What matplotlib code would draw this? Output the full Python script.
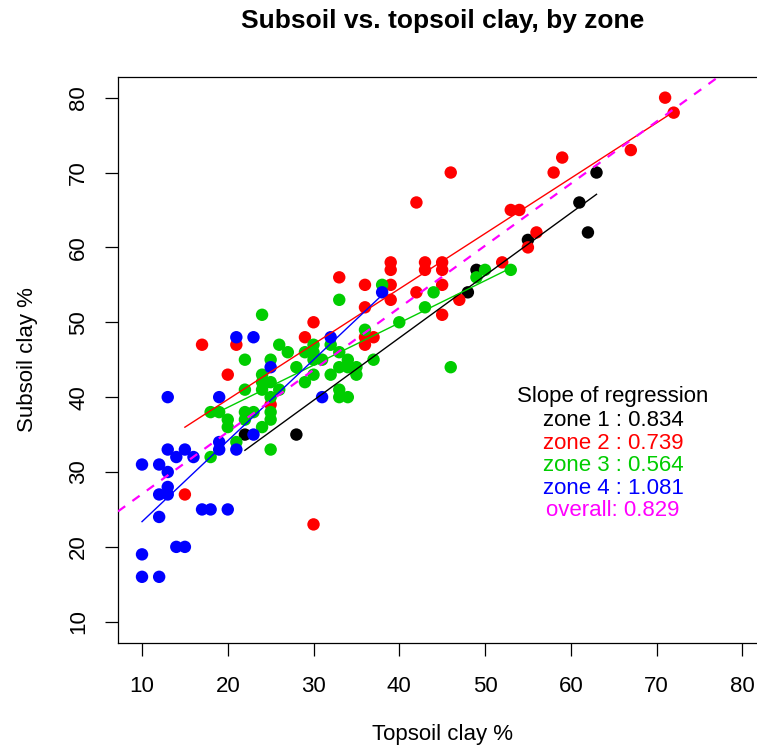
import numpy as np
import matplotlib
matplotlib.use("Agg")
import matplotlib.pyplot as plt

plt.rcParams['font.family'] = ['Liberation Sans', 'DejaVu Sans']

# ---------------- data (topsoil, subsoil clay %) por zona ----------------
z1_top = [22, 28, 48, 49, 55, 61, 62, 63]
z1_sub = [35, 35, 54, 57, 61, 66, 62, 70]

z2_top = [15, 17, 20, 21, 25, 29, 30, 30, 33, 36, 36, 36, 37, 36, 39, 39, 39, 39,
          42, 42, 43, 43, 45, 45, 45, 45, 46, 47, 52, 53, 54, 55, 56, 58, 59, 67, 71, 72]
z2_sub = [27, 47, 43, 47, 39, 48, 50, 23, 56, 55, 52, 48, 48, 47, 58, 57, 55, 53,
          66, 54, 58, 57, 58, 57, 55, 51, 70, 53, 58, 65, 65, 60, 62, 70, 72, 73, 80, 78]

z3_top = [18, 18, 19, 20, 20, 21, 22, 22, 22, 22, 23, 24, 24, 24, 24, 24, 25, 25, 25,
          25, 25, 25, 26, 26, 27, 28, 29, 29, 30, 30, 30, 30, 31, 32, 32, 33, 33, 33,
          33, 33, 34, 34, 34, 35, 35, 36, 37, 38, 40, 43, 44, 46, 49, 50, 53]
z3_sub = [32, 38, 38, 37, 36, 34, 45, 41, 38, 37, 38, 51, 43, 42, 41, 36, 45, 42, 40,
          38, 37, 33, 47, 41, 46, 44, 46, 42, 47, 46, 45, 43, 45, 47, 43, 53, 46, 44,
          41, 40, 45, 44, 40, 44, 43, 49, 45, 55, 50, 52, 54, 44, 56, 57, 57]

z4_top = [10, 10, 10, 12, 12, 12, 12, 13, 13, 13, 13, 13, 14, 14, 15, 15, 16, 17,
          18, 19, 19, 19, 20, 21, 21, 23, 23, 25, 31, 32, 38]
z4_sub = [31, 19, 16, 16, 24, 27, 31, 40, 33, 30, 28, 27, 32, 20, 33, 20, 32, 25,
          25, 40, 34, 33, 25, 48, 33, 48, 35, 44, 40, 48, 54]

# rectas de regresion (pendiente, intercepto)
pendientes = [0.834, 0.739, 0.564, 1.081]
interceptos = [14.55, 24.9, 27.35, 12.56]
pend_total = 0.829
inter_total = 18.77

colores = ['black', '#FF0000', '#00CD00', '#0000FF']
zonas = [(z1_top, z1_sub), (z2_top, z2_sub), (z3_top, z3_sub), (z4_top, z4_sub)]

# ---------------- figura ----------------
fig = plt.figure(figsize=(7.57, 7.49), dpi=100)
ax = fig.add_axes([0.15588, 0.14192, 0.85641, 0.75567])

for (xs, ys), col in zip(zonas, colores):
    ax.scatter(xs, ys, s=80, color=col, edgecolors='none', zorder=3)

for (xs, ys), col, b, a in zip(zonas, colores, pendientes, interceptos):
    xr = np.array([min(xs), max(xs)])
    ax.plot(xr, a + b * xr, color=col, lw=1.0, zorder=4)

ax.set_xlim(7.2, 82.8)
ax.set_ylim(7.2, 82.8)
xx = np.array(ax.get_xlim())
ax.plot(xx, inter_total + pend_total * xx, color='#FF00FF', lw=1.6,
        ls=(0, (4, 4)), zorder=5)

ax.set_xticks(range(10, 81, 10))
ax.set_yticks(range(10, 81, 10))
ax.tick_params(length=9.7, width=0.9, labelsize=16)
ax.tick_params(axis='x', pad=14)
ax.tick_params(axis='y', pad=11)
for lab in ax.get_yticklabels():
    lab.set_rotation(90)
    lab.set_va('center')
for sp in ax.spines.values():
    sp.set_linewidth(0.9)

ax.set_xlabel('Topsoil clay %', fontsize=16, labelpad=20)
ax.set_ylabel('Subsoil clay %', fontsize=16, labelpad=22)
ax.set_title('Subsoil vs. topsoil clay, by zone', fontsize=19, fontweight='bold', pad=35)

# leyenda de pendientes
tx = 0.7635
ax.text(tx, 0.4346, 'Slope of regression', transform=ax.transAxes,
        ha='center', va='center', fontsize=16)
ys_txt = [0.3922, 0.3523, 0.3122, 0.2733]
for i, (col, b) in enumerate(zip(colores, pendientes)):
    ax.text(tx, ys_txt[i], f'zone {i + 1} : {b:.3f}', transform=ax.transAxes,
            ha='center', va='center', fontsize=16, color=col)
ax.text(tx, 0.2332, f'overall: {pend_total:.3f}', transform=ax.transAxes,
        ha='center', va='center', fontsize=16, color='#FF00FF')

fig.savefig('out.png', dpi=100)
